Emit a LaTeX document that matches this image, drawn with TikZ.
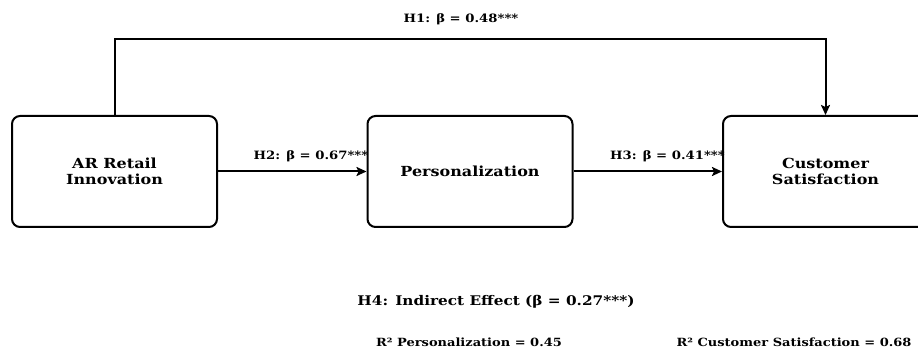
\documentclass[tikz,border=0pt]{standalone}
\usepackage{fontspec}
\setmainfont[FakeStretch=1.15]{DejaVu Serif}
\usetikzlibrary{arrows.meta,positioning}

\begin{document}
\begin{tikzpicture}[x=1pt,y=-1pt,
    construct/.style={draw,line width=2pt,rounded corners=8pt,minimum width=205pt,minimum height=111pt,align=center,font=\bfseries\fontsize{13.9}{16}\selectfont},
    path/.style={line width=2pt,-{Stealth[length=10pt,width=9pt,inset=2pt]}},
    coef/.style={inner sep=0pt,font=\bfseries\fontsize{11.5}{13}\selectfont}]
    \useasboundingbox (0,0) rectangle (918,352);
    \node [construct] (ar) at (114.5,171.5) {AR Retail\\Innovation};
    \node [construct,right=148.5pt of ar] (pers) {Personalization};
    \node [construct,right=148.5pt of pers] (cs) {Customer\\Satisfaction};

    \coordinate [above=75.5pt of ar.north] (turn);
    \draw [path] (ar.north) -- (turn) -| (cs.north);
    \draw [path] (ar) -- (pers);
    \draw [path] (pers) -- (cs);

    \node [coef] (h1) at (461,19) {H1: β = 0.48***};
    \node [coef,above left=9.5pt and -2pt of pers.west] (h2) {H2: β = 0.67***};
    \node [coef,above left=9.5pt and -3pt of cs.west] (h3) {H3: β = 0.41***};

    \node [inner sep=0pt,font=\bfseries\fontsize{13.3}{15}\selectfont] (h4) at (496,302) {H4: Indirect Effect (β = 0.27***)};
    \node [inner sep=0pt,font=\bfseries\fontsize{11.3}{13}\selectfont] (r2p) at (469,342) {R² Personalization = 0.45};
    \node [inner sep=0pt,font=\bfseries\fontsize{11.3}{13}\selectfont] (r2c) at (794,342) {R² Customer Satisfaction = 0.68};
\end{tikzpicture}
\end{document}
